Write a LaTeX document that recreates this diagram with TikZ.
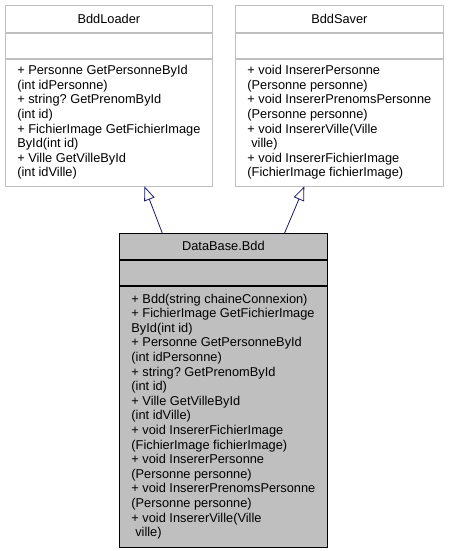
\documentclass[tikz,border=0pt]{standalone}
\usepackage{fontspec}
\setmainfont{Liberation Sans}
\frenchspacing
\usetikzlibrary{arrows.meta,calc,positioning}
\definecolor{lightedge}{HTML}{BFBFBF}
\definecolor{bddfill}{HTML}{BFBFBF}
\definecolor{inherit}{HTML}{191970}

\begin{document}
\begin{tikzpicture}[x=1pt, y=-1pt,
		classpart/.style={draw=lightedge, fill=white, rectangle, inner sep=0pt,
			line width=0.8pt, font=\fontsize{12.8}{14.6}\selectfont},
		mainpart/.style={classpart, draw=black, fill=bddfill},
		members/.style={align=left},
		inheritarrow/.style={draw=inherit, line width=0.8pt,
			-{Triangle[open, length=14pt, width=11pt, fill=white]}}]
	\useasboundingbox (0, 0) rectangle (448, 551);

	% base class on the left
	\node[classpart, anchor=north west, minimum width=207pt, minimum height=27pt] (loadertitle) at (5, 5) {BddLoader};
	\node[classpart, minimum width=207pt, minimum height=25pt, below=0pt of loadertitle] (loaderattr) {};
	\node[classpart, members, minimum width=207pt, minimum height=127pt, below=0pt of loaderattr] (loaderops) {%
		+ Personne GetPersonneById\\
		(int idPersonne)\\
		+ string? GetPrenomById\\
		(int id)\\
		+ FichierImage GetFichierImage\\
		ById(int id)\\
		+ Ville GetVilleById\\
		(int idVille)};

	% base class on the right
	\node[classpart, anchor=north west, minimum width=208pt, minimum height=27pt] (savertitle) at (235, 5) {BddSaver};
	\node[classpart, minimum width=208pt, minimum height=25pt, below=0pt of savertitle] (saverattr) {};
	\node[classpart, members, minimum width=208pt, minimum height=127pt, below=0pt of saverattr] (saverops) {%
		+ void InsererPersonne\\
		(Personne personne)\\
		+ void InsererPrenomsPersonne\\
		(Personne personne)\\
		+ void InsererVille(Ville\\
		\hspace*{.3em}ville)\\
		+ void InsererFichierImage\\
		(FichierImage fichierImage)};

	% derived class
	\node[mainpart, anchor=north west, minimum width=208pt, minimum height=26pt] (bddtitle) at (119, 233) {DataBase.Bdd};
	\node[mainpart, minimum width=208pt, minimum height=25pt, below=0pt of bddtitle] (bddattr) {};
	\node[mainpart, members, minimum width=208pt, minimum height=261pt, below=0pt of bddattr] (bddops) {%
		+ Bdd(string chaineConnexion)\\
		+ FichierImage GetFichierImage\\
		ById(int id)\\
		+ Personne GetPersonneById\\
		(int idPersonne)\\
		+ string? GetPrenomById\\
		(int id)\\
		+ Ville GetVilleById\\
		(int idVille)\\
		+ void InsererFichierImage\\
		(FichierImage fichierImage)\\
		+ void InsererPersonne\\
		(Personne personne)\\
		+ void InsererPrenomsPersonne\\
		(Personne personne)\\
		+ void InsererVille(Ville\\
		\hspace*{.3em}ville)};

	\draw[inheritarrow] ($(bddtitle.north west)!0.207!(bddtitle.north east)$) -- ($(loaderops.south west)!0.671!(loaderops.south east)$);
	\draw[inheritarrow] ($(bddtitle.north west)!0.793!(bddtitle.north east)$) -- ($(saverops.south west)!0.332!(saverops.south east)$);
\end{tikzpicture}
\end{document}
